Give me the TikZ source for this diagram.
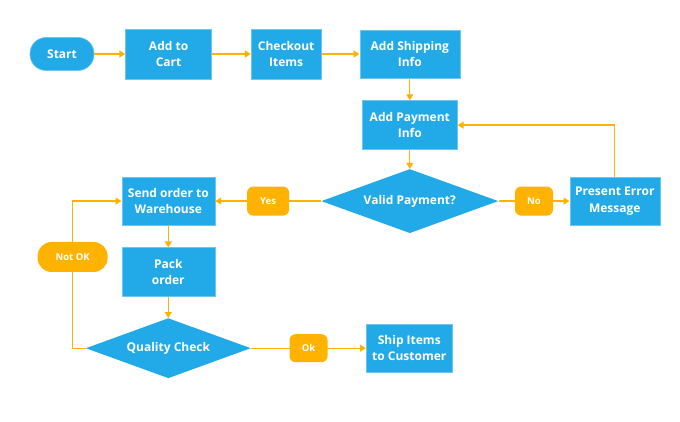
\documentclass[tikz,border=0pt]{standalone}
\usepackage{fontspec}
\setmainfont{Open Sans}
\usepackage{tikz}
\usetikzlibrary{shapes.geometric,arrows.meta,positioning}
\definecolor{flowblue}{HTML}{22AAE8}
\definecolor{flowedge}{HTML}{6CC6EF}
\definecolor{floworange}{HTML}{FFB300}
\tikzset{
  proc/.style={rectangle, draw=flowedge, line width=0.6pt, fill=flowblue, text=white,
               align=center, inner sep=2pt, font=\fontsize{12}{16.5}\selectfont\bfseries},
  term/.style={proc, rounded corners=16pt, minimum width=64pt, minimum height=33pt},
  dec/.style={diamond, aspect=2.8, fill=flowblue, text=white, inner sep=0pt,
              font=\fontsize{12}{16.5}\selectfont\bfseries},
  lbl/.style={rectangle, rounded corners=6pt, fill=floworange, text=white,
              minimum width=38pt, minimum height=29pt, inner sep=2pt,
              font=\fontsize{9.5}{11}\selectfont\bfseries},
  ar/.style={-{Triangle[length=6pt,width=7pt]}, draw=floworange, line width=1.2pt}
}
\begin{document}
\begin{tikzpicture}
\useasboundingbox (0pt,0pt) rectangle (680pt,-422pt);
% ---- top row ----
\node[term] (start) at (62pt,-54pt) {Start};
\node[proc, minimum width=86pt, minimum height=50pt, right=31pt of start] (cart) {Add to\\Cart};
\node[proc, minimum width=70pt, minimum height=50pt, right=39pt of cart] (checkout) {Checkout\\Items};
\node[proc, minimum width=100pt, minimum height=48pt, right=38pt of checkout] (shipinfo) {Add Shipping\\Info};
% ---- payment ----
\node[proc, minimum width=95pt, minimum height=49pt, below=22pt of shipinfo] (payinfo) {Add Payment\\Info};
\node[dec, minimum width=177pt, minimum height=64pt, below=19pt of payinfo] (valid) {Valid Payment?};
\node[proc, minimum width=90pt, minimum height=48pt, right=71pt of valid] (error) {Present Error\\Message};
% ---- warehouse ----
\node[proc, minimum width=93pt, minimum height=48pt, left=106pt of valid] (warehouse) {Send order to\\Warehouse};
\node[proc, minimum width=93pt, minimum height=49pt, below=22pt of warehouse] (pack) {Pack\\order};
\node[dec, minimum width=165pt, minimum height=60pt, below=21pt of pack] (quality) {Quality Check};
\node[proc, minimum width=86pt, minimum height=48pt, right=115pt of quality] (shipcust) {Ship Items\\to Customer};
\coordinate[left=13pt of quality.west] (qturn);
% ---- arrows ----
\draw[ar] (start) -- (cart);
\draw[ar] (cart) -- (checkout);
\draw[ar] (checkout) -- (shipinfo);
\draw[ar] (shipinfo) -- (payinfo);
\draw[ar] (payinfo) -- (valid);
\draw[ar] (valid) -- node[lbl, minimum width=42pt] (yes) {Yes} (warehouse);
\draw[ar] (valid) -- node[lbl] (no) {No} (error);
\draw[ar] (error) |- (payinfo);
\draw[ar] (warehouse) -- (pack);
\draw[ar] (pack) -- (quality);
\draw[ar] (quality) -- node[lbl, minimum height=28pt] (ok) {Ok} (shipcust);
\draw[ar] (quality.west) -- (qturn) |- node[lbl, pos=0.31, rounded corners=14pt, minimum width=70pt, minimum height=30pt] (notok) {Not OK} (warehouse);
\end{tikzpicture}
\end{document}
